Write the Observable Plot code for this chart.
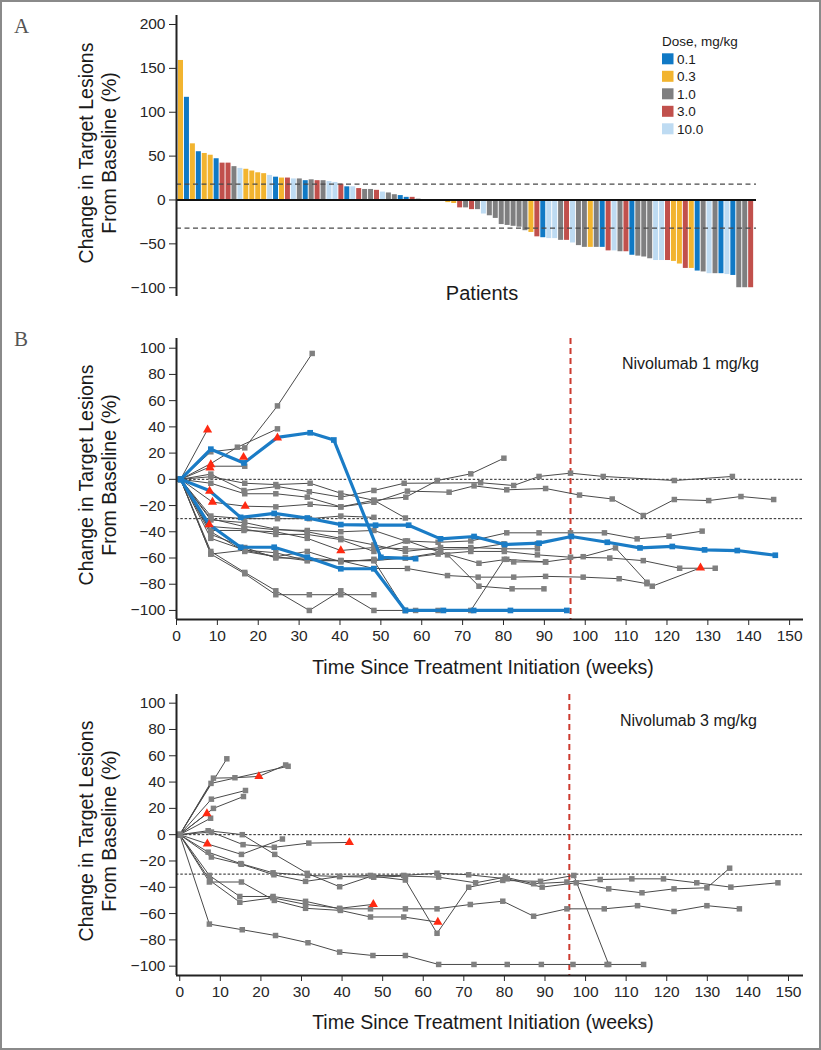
<!DOCTYPE html>
<html><head><meta charset="utf-8">
<script src="https://cdn.jsdelivr.net/npm/d3@7"></script>
<script src="https://cdn.jsdelivr.net/npm/@observablehq/plot@0.6"></script>
<style>
body{margin:0;background:#fff;}
#fig{position:relative;width:821px;height:1050px;background:#fff;overflow:hidden;font-family:"Liberation Sans",Arial,sans-serif;}
#border{position:absolute;left:0;top:0;width:821px;height:1050px;box-sizing:border-box;border:2px solid #8a8a8a;pointer-events:none;}
</style></head><body><div id="fig"></div>
<script>
// ---------- Panel A data ----------
const doseLevels = ["0.1","0.3","1.0","3.0","10.0"];
const doseColors = ["#1079c5","#f2b42f","#7f7f80","#c1504c","#bedbf2"];
const doseCodes = {B:"0.1", Y:"0.3", G:"1.0", R:"3.0", L:"10.0"};
const waterfallDoseCodes = "YBYBYYBRRGLYYYYLBYRLGBGRGLLRBLRGGRLGGBBRGGGGGYYRGRGLGGGGGGGYRBLLGRLGGYGBRLGRBGGGLLRYYRYBGLGBLBGGR";
const waterfallChange = [159,117,64,55,53,51,47,42,42,38,
  36,35,33,31,30,28,26,25,25,24,
  24,22,23,22,22,21,20,18,15,15,
  13,12,12,11,9,8,6,5,3,3,
  1,0,0,0,0,-3,-4,-9,-9,-11,
  -11,-16,-18,-21,-28,-29,-30,-31,-35,-37,
  -42,-43,-44,-44,-46,-46,-49,-52,-54,-54,
  -54,-54,-58,-58,-59,-59,-63,-64,-65,-67,
  -69,-69,-69,-70,-73,-78,-78,-81,-82,-84,
  -84,-84,-85,-86,-100,-100,-100];
const yTicksA = [-100,-50,0,50,100,150,200];
const thresholdsA = [18,-32];

// ---------- Panel B data (weeks, % change) ----------
const nivo1Gray = [
 [[1,0],[7.6,38]],
 [[1,0],[8.4,21],[16.7,24],[24.7,56],[33.2,96]],
 [[1,0],[8.4,12],[14.9,24.5],[24.7,38.5]],
 [[1,0],[8.6,10],[16.7,10]],
 [[1,0],[8.4,2],[16.7,-3],[24.3,-4],[32.7,-3],[40.2,-10.6],[48.3,-16],[56.1,-13.6],[63.8,-0.9],[72,4.2],[80.1,16.1]],
 [[1,0],[8.4,4],[16.5,-8.5],[24.7,-5.5],[32.5,-9.5],[40.2,-13.6],[48.3,-8.5],[55.7,-3],[74.4,-2.6],[82.5,-4.7],[88.7,2.2],[96.4,4.7],[104.4,2.2],[121.8,-0.9],[136,2.2]],
 [[1,0],[8.4,-3],[16.7,-11],[24.3,-11],[32,-13.6],[40.2,-21],[48.3,-17.5],[56.5,-9],[66.7,-9.8],[72.8,-5],[80.8,-8],[90.3,-7],[98.6,-12],[106.6,-15],[114.2,-27.6],[121.8,-15.4],[130.2,-16.2],[138.1,-13.1],[146.1,-15.4]],
 [[1,0],[8.8,-17.4],[16.8,-20.5],[24.3,-21],[32.7,-19],[40.2,-21],[48.3,-16],[56,-29.5]],
 [[1,0],[8.4,-28],[16.5,-30],[24.7,-30],[32.5,-30],[40.2,-28],[48.3,-29]],
 [[1,0],[8.4,-30],[16.5,-36],[24.3,-38.5],[32,-39],[40.2,-40],[48.3,-39],[56,-47],[64,-48],[72,-47],[80.8,-40.8],[88.7,-40.8],[96.4,-40.8],[104.7,-40.8],[112.7,-45.4],[120.5,-43.4],[128.6,-39.5]],
 [[1,0],[8.4,-39],[16.5,-39],[24.3,-40],[32,-45],[40.2,-54.3],[48.3,-52],[56,-53],[64.6,-53.5],[72,-53],[80.1,-49.2],[88.3,-49.2]],
 [[1,0],[8.4,-45],[16.7,-54],[24.3,-56],[32,-62],[40.2,-62],[48.3,-62],[56,-60],[64,-57],[72,-55],[80.2,-55],[88.3,-57.6],[96.4,-59.4],[106,-60],[114.2,-62],[123.1,-67.8],[131.8,-67.8]],
 [[1,0],[8.4,-57],[16.7,-54],[24.3,-59],[32,-55],[40.2,-63],[48.3,-61],[56,-60],[64.6,-55.6],[74,-64],[80.8,-61],[90.3,-63],[99.5,-59],[107.4,-52.3],[115.1,-78.5],[116.4,-81.5],[128.2,-67.5]],
 [[1,0],[8.4,-42],[16.7,-52],[24.3,-60],[32,-60],[40.2,-62],[48.3,-68],[56.5,-68],[66.3,-73.4],[73.8,-74.6],[82.5,-74.6],[90.3,-74],[99.5,-74.6],[108.3,-75.8],[115.1,-79.6]],
 [[1,0],[8.4,-55],[16.7,-71],[24.3,-85],[32.5,-100],[40.2,-85],[48.3,-100],[56,-100],[58.5,-100]],
 [[1,0],[8.4,-57],[16.7,-72],[24.3,-88],[32.5,-88],[40.2,-88],[48.3,-88]],
 [[1,0],[8.4,-40],[16.7,-55],[24.3,-59],[32,-62],[40.2,-62],[48.3,-62],[56,-100],[64,-100],[72,-100],[80.2,-61],[82.5,-63],[90.3,-63]],
 [[1,0],[8.4,-36],[16.7,-38],[24.3,-42],[32,-42],[40.2,-46],[48.3,-55],[56.5,-47],[66.3,-57.6],[74,-81.5],[82.1,-83.5],[89.9,-83.5]],
 [[1,0],[8.4,-31],[16.7,-33],[24.3,-38],[32,-40],[40.2,-45],[48.3,-50],[56,-55],[64.6,-52],[72,-52],[80.2,-53],[88.3,-53]]
];
const nivo1Blue = [
 [[1,0],[8.4,23],[16.5,12.5],[24.7,32],[32.7,35.5],[38.5,30],[50,-59.5],[58.5,-60.5]],
 [[1,0],[8,-8.5],[15.7,-29],[23.9,-26],[32,-29.5],[40.2,-34.5],[48.7,-35],[56.8,-35],[64.6,-45.4],[72.8,-43.6],[80.3,-49.7],[88.7,-48.7],[96.6,-43.6],[105.4,-48],[113.4,-52.3],[121.3,-51.2],[129.2,-53.8],[137.2,-54.3],[146.5,-57.9]],
 [[1,0],[8,-34.5],[15.7,-51.8],[23.9,-51.8],[32,-59.4],[40.2,-68.2],[48.3,-68.2],[56,-100],[65.3,-100],[72.7,-100],[81.7,-100],[95.5,-100]]
];
const nivo1Triangles = [[7.6,37.7],[8.4,11.3],[8.2,8.8],[16.4,16.9],[24.7,31.6],[8.1,-9],[8.8,-17.4],[16.8,-20.5],[8,-34.5],[40.2,-54.3],[128.2,-67.5]];

const nivo3Gray = [
 [[0,0],[11.6,57.7]],
 [[0,0],[7.7,39],[26.7,52]],
 [[0,0],[8.3,43],[13.6,43.3],[19.5,44.3],[26.1,53]],
 [[0,0],[7.8,27],[16.2,33.6]],
 [[0,0],[8.3,20],[15.7,29]],
 [[0,0],[6.7,16]],
 [[0,0],[7.6,12.5]],
 [[0,0],[7,3],[15.4,0],[23.4,-15],[31.4,-29.4],[39.4,-39.6],[47.3,-31.5],[55.6,-34.5],[63.4,-75],[71.2,-40],[79.6,-34.8],[88.9,-35.5],[97.1,-31],[105.7,-98.7]],
 [[0,0],[7.8,2],[15.6,-7.6],[23.3,-9.6],[31.8,-6.4],[41.8,-5.9]],
 [[0,0],[6.8,-7],[15.2,-15],[25.3,-3.3]],
 [[0,0],[7,-13.3],[15,-22],[23,-29],[31.5,-31],[39.4,-31.8],[47,-31],[55.2,-31],[63.4,-29.3],[71.2,-30.5],[80.7,-33.6],[89.3,-39.9],[97.7,-36.6],[105.7,-41.2],[113.9,-44.2],[121.8,-41.2],[129.9,-40.4],[135.5,-25.5]],
 [[0,0],[7.8,-17],[15.2,-22.5],[23.2,-30.5],[31,-35.5],[39.4,-31.8],[47.8,-32.4],[55.6,-31.5],[63.8,-32.3],[72.9,-36.6],[80.2,-32.3],[87.2,-37.3],[95.4,-36],[103.6,-34.1],[111.4,-33.6],[119.2,-33.6],[127.4,-36.6],[135.8,-39.9],[147.4,-36.6]],
 [[0,0],[7.3,-31],[14.8,-47],[23,-47],[31,-50.7],[39.4,-56.4],[47,-56.4],[55.6,-56.4],[63.4,-56.4],[71.6,-53.1],[79.6,-50.6],[87.2,-62],[95.4,-56.4],[104.6,-56.4],[112.8,-54],[121.8,-58.4],[129.9,-54],[137.9,-56.4]],
 [[0,0],[7.3,-36],[15.2,-36],[23.3,-50],[31,-56],[39.6,-57.6],[47,-62.6],[55.2,-62.6],[63.6,-66.5]],
 [[0,0],[7.5,-35],[14.8,-51.4],[22.9,-48],[31,-53],[39.4,-56],[47.7,-53]],
 [[0,0],[7.3,-68],[15.4,-72.3],[23.6,-76.7],[31.6,-82.2],[39.4,-89.3],[47.6,-91.9],[55.6,-91.9],[63.8,-98.7],[72.5,-98.7],[80.7,-98.7],[89.1,-98.7],[96.9,-98.7],[105.3,-98.7],[114.3,-98.7]]
];
const nivo3Triangles = [[6.7,16],[19.5,44.3],[6.8,-7],[41.8,-5.9],[47.7,-53],[63.6,-66.5]];

const xTicksB = d3.range(0,151,10);
const yTicksB = d3.range(-100,101,20);
const thresholdsB = [0,-30];
const cutoffWeek1 = 96.4, cutoffWeek3 = 96;

// ---------- helpers ----------
const FONT = '"Liberation Sans", Arial, sans-serif';
const LETTER_FONT = '"Liberation Serif", "DejaVu Serif", serif';
const fig = document.getElementById("fig");
function place(svg, top){ svg.style.position="absolute"; svg.style.left="0px"; svg.style.top=top+"px"; fig.appendChild(svg); return d3.select(svg); }
function addText(sel, str, x, y, opts={}){
  const t = sel.append("text").text(str).attr("x",x).attr("y",y)
    .attr("font-family", opts.family || FONT).attr("font-size", opts.size || 19.5)
    .attr("fill", opts.fill || "#1a1a1a").attr("text-anchor", opts.anchor || "start");
  if (opts.rotate) t.attr("transform", `rotate(-90,${x},${y})`);
  return t;
}
const rows = lines => lines.flatMap((pts,id)=>pts.map(([w,v])=>({id,w,v})));
const triRows = tris => tris.map(([w,v])=>({w,v}));
const nearTri = (p,tris) => tris.some(([tw,tv])=>Math.abs(tw-p.w)<0.8 && Math.abs(tv-p.v)<3);

// ---------- Panel A ----------
const bars = waterfallChange.map((v,i)=>({i, v, dose: doseCodes[waterfallDoseCodes[i]]}));
const xMinA = -0.76;
const plotA = Plot.plot({
  width: 821, height: 320, marginLeft: 176, marginRight: 65, marginTop: 15, marginBottom: 24,
  style: {fontFamily: FONT, color: "#262626", background: "transparent"},
  x: {domain: [xMinA, 96.9], axis: null},
  y: {domain: [-110, 210.25]},
  color: {domain: doseLevels, range: doseColors},
  marks: [
    Plot.rectY(bars, {x1: d=>d.i-0.42, x2: d=>d.i+0.42, y: "v", fill: "dose"}),
    Plot.ruleY(thresholdsA, {stroke: "#4a4a4a", strokeWidth: 1.3, strokeDasharray: "5,3.5"}),
    Plot.ruleY([0], {stroke: "#111", strokeWidth: 2}),
    Plot.ruleX([xMinA], {stroke: "#222", strokeWidth: 2}),
    Plot.axisY({ticks: yTicksA, tickSize: 7, tickPadding: 4, fontSize: 15.5, label: null})
  ]
});
const sA = place(plotA, 0);
addText(sA, "A", 14, 33, {family: LETTER_FONT, size: 21, fill: "#555"});
addText(sA, "Change in Target Lesions", 93, 153, {anchor: "middle", rotate: true});
addText(sA, "From Baseline (%)", 116, 153, {anchor: "middle", rotate: true});
addText(sA, "Patients", 482, 300, {anchor: "middle", size: 20});
addText(sA, "Dose, mg/kg", 662, 45.5, {size: 13.5});
doseLevels.forEach((d,k)=>{
  const top = 53.3 + k*17.5;
  sA.append("rect").attr("x",662).attr("y",top).attr("width",11.5).attr("height",11).attr("fill",doseColors[k]);
  addText(sA, d, 677, top+10.5, {size: 13.5});
});

// ---------- Panel B ----------
function spaghetti({gray, blue, tris, xDomain, yDomain, height, marginTop, marginBottom, cutoff}){
  const gr = rows(gray);
  const br = rows(blue);
  return Plot.plot({
    width: 821, height, marginLeft: 176, marginRight: 18, marginTop, marginBottom,
    style: {fontFamily: FONT, color: "#262626", background: "transparent"},
    x: {domain: xDomain},
    y: {domain: yDomain},
    marks: [
      Plot.ruleY(thresholdsB, {stroke: "#222", strokeWidth: 1, strokeDasharray: "2.5,1.8"}),
      Plot.ruleX([cutoff], {stroke: "#cc3b30", strokeWidth: 2, strokeDasharray: "6,4"}),
      Plot.line(gr, {x: "w", y: "v", z: "id", stroke: "#4a4a4a", strokeWidth: 1}),
      Plot.dot(gr.filter(p=>!nearTri(p,tris)), {x: "w", y: "v", symbol: "square", r: 3.1, fill: "#808080"}),
      Plot.line(br, {x: "w", y: "v", z: "id", stroke: "#1a7cc6", strokeWidth: 3.2}),
      Plot.dot(br.filter(p=>!nearTri(p,tris)), {x: "w", y: "v", symbol: "square", r: 3.2, fill: "#1a7cc6"}),
      Plot.dot(triRows(tris), {x: "w", y: "v", symbol: "triangle", r: 3.4, fill: "#ff2a12"}),
      Plot.ruleX([xDomain[0]], {stroke: "#222", strokeWidth: 2}),
      Plot.ruleY([yDomain[0]], {stroke: "#222", strokeWidth: 2}),
      Plot.axisY({ticks: yTicksB, tickSize: 7, tickPadding: 4, fontSize: 15.5, label: null}),
      Plot.axisX({ticks: xTicksB, tickSize: 6, tickPadding: 4.5, fontSize: 15.5, label: null})
    ]
  });
}

const plotB1 = spaghetti({gray: nivo1Gray, blue: nivo1Blue, tris: nivo1Triangles,
  xDomain: [0, 153.4], yDomain: [-106.9, 107.4], height: 360, marginTop: 18, marginBottom: 61, cutoff: cutoffWeek1});
const sB1 = place(plotB1, 320);
addText(sB1, "B", 14, 26, {family: LETTER_FONT, size: 21, fill: "#555"});
addText(sB1, "Change in Target Lesions", 93, 155, {anchor: "middle", rotate: true});
addText(sB1, "From Baseline (%)", 116, 155, {anchor: "middle", rotate: true});
addText(sB1, "Time Since Treatment Initiation (weeks)", 483, 354, {anchor: "middle"});
addText(sB1, "Nivolumab 1 mg/kg", 622, 49, {size: 16});

const plotB2 = spaghetti({gray: nivo3Gray, blue: [], tris: nivo3Triangles,
  xDomain: [-0.8, 153.7], yDomain: [-107.1, 106.6], height: 370, marginTop: 14, marginBottom: 75, cutoff: cutoffWeek3});
const sB2 = place(plotB2, 680);
addText(sB2, "Change in Target Lesions", 93, 151, {anchor: "middle", rotate: true});
addText(sB2, "From Baseline (%)", 116, 151, {anchor: "middle", rotate: true});
addText(sB2, "Time Since Treatment Initiation (weeks)", 483, 349, {anchor: "middle"});
addText(sB2, "Nivolumab 3 mg/kg", 620, 46, {size: 16});

const border = document.createElement("div"); border.id = "border"; fig.appendChild(border);
</script>
</body></html>
